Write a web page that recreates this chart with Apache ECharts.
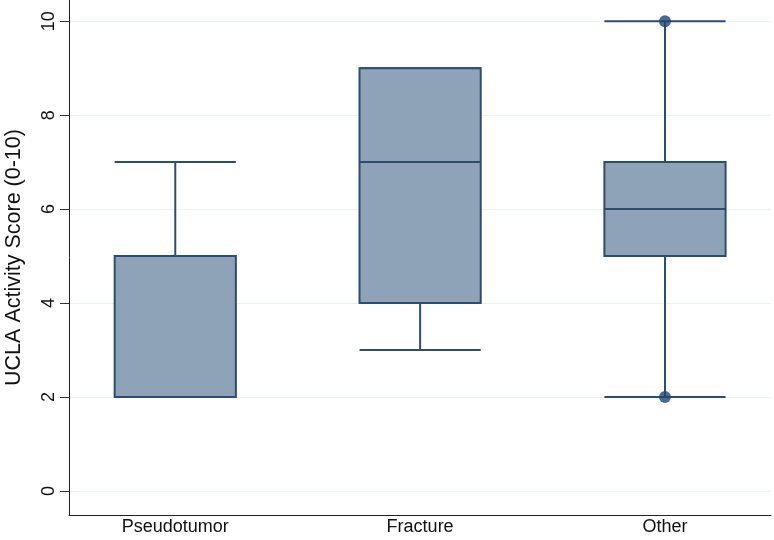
<!DOCTYPE html>
<html><head><meta charset="utf-8">
<script src="https://cdn.jsdelivr.net/npm/echarts@6/dist/echarts.min.js"></script>
<style>html,body{margin:0;padding:0;background:#fff}#c{width:774px;height:540px}</style>
</head><body><div id="c"></div>
<script>
var categories = ['Pseudotumor', 'Fracture', 'Other'];
var lowerWhisker = [2, 3, 2];
var q1 = [2, 4, 5];
var median = [2, 7, 6];
var q3 = [5, 9, 7];
var upperWhisker = [7, 9, 10];
var outlierCat = [2, 2];
var outlierVal = [10, 2];
var yTicks = [0, 2, 4, 6, 8, 10];

var boxData = categories.map(function (c, i) {
  return [i + 1, lowerWhisker[i], q1[i], median[i], q3[i], upperWhisker[i]];
});
var outData = outlierCat.map(function (c, i) { return [c + 1, outlierVal[i]]; });

var FILL = '#8ea3b7', EDGE = '#2d4d70';
var HALF = 0.2475;
var FONT = 'Liberation Sans, Arial, sans-serif';

var chart = echarts.init(document.getElementById('c'));
chart.setOption({
  animation: false,
  backgroundColor: '#fff',
  grid: { left: 69, right: 3, top: 0, bottom: 25, outerBoundsMode: 'none', containLabel: false },
  xAxis: {
    type: 'value', min: 0.566, max: 3.433,
    axisLine: { show: true, onZero: false, lineStyle: { color: '#222', width: 1 } },
    axisTick: { show: false },
    splitLine: { show: false },
    axisLabel: {
      customValues: [1, 2, 3],
      formatter: function (v) { return categories[Math.round(v) - 1] || ''; },
      fontFamily: FONT, fontSize: 18, color: '#111', margin: 3
    }
  },
  yAxis: {
    type: 'value', min: -0.51, max: 10.45,
    name: 'UCLA Activity Score (0-10)', nameLocation: 'middle', nameGap: 44,
    nameTextStyle: { fontFamily: FONT, fontSize: 21.5, color: '#111' },
    axisLine: { show: true, onZero: false, lineStyle: { color: '#222', width: 1 } },
    axisTick: { show: true, customValues: yTicks, length: 9, lineStyle: { color: '#333' } },
    axisLabel: {
      customValues: yTicks, rotate: 90, margin: 11,
      fontFamily: FONT, fontSize: 18, color: '#111'
    },
    splitLine: { show: true, lineStyle: { color: '#edf2f5', width: 1 } }
  },
  series: [{
    type: 'custom',
    data: boxData,
    encode: { x: 0, y: [1, 2, 3, 4, 5] },
    renderItem: function (params, api) {
      var x = api.value(0);
      var lw = api.coord([x, api.value(1)]);
      var a = api.coord([x - HALF, api.value(2)]);
      var md = api.value(3);
      var b = api.coord([x + HALF, api.value(4)]);
      var uw = api.coord([x, api.value(5)]);
      var mL = api.coord([x - HALF, md]), mR = api.coord([x + HALF, md]);
      var cL = a[0], cR = b[0];
      var ls = { stroke: EDGE, lineWidth: 2 };
      return {
        type: 'group',
        children: [
          { type: 'line', shape: { x1: lw[0], y1: lw[1], x2: lw[0], y2: a[1] }, style: ls },
          { type: 'line', shape: { x1: uw[0], y1: uw[1], x2: uw[0], y2: b[1] }, style: ls },
          { type: 'line', shape: { x1: cL, y1: lw[1], x2: cR, y2: lw[1] }, style: ls },
          { type: 'line', shape: { x1: cL, y1: uw[1], x2: cR, y2: uw[1] }, style: ls },
          { type: 'rect', shape: { x: a[0], y: b[1], width: b[0] - a[0], height: a[1] - b[1] },
            style: { fill: FILL, stroke: EDGE, lineWidth: 2 } },
          { type: 'line', shape: { x1: mL[0], y1: mL[1], x2: mR[0], y2: mR[1] }, style: ls }
        ]
      };
    },
    z: 3
  }, {
    type: 'scatter',
    data: outData,
    symbol: 'circle', symbolSize: 12,
    itemStyle: { color: '#1d4672' },
    z: 5
  }]
});
</script></body></html>
